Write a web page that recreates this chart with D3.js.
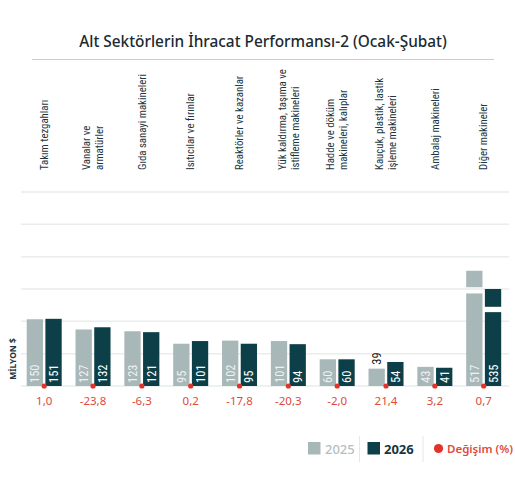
<!DOCTYPE html>
<html><head><meta charset="utf-8">
<script src="https://cdn.jsdelivr.net/npm/d3@7"></script>
<style>
html,body{margin:0;padding:0;background:#fff;}
svg{display:block;}
</style></head>
<body>
<script>
const categories = ["Takım tezgahları", "Vanalar ve\narmatürler", "Gıda sanayi makineleri", "Isıtıcılar ve fırınlar", "Reaktörler ve kazanlar", "Yük kaldırma, taşıma ve\nistifleme makineleri", "Hadde ve döküm\nmakineleri, kalıplar", "Kauçuk, plastik, lastik\nişleme makineleri", "Ambalaj makineleri", "Diğer makineler"];
const values2025 = [150, 127, 123, 95, 102, 101, 60, 39, 43, 517];
const values2026 = [151, 132, 121, 101, 95, 94, 60, 54, 41, 535];
const changePct = [1.0, -23.8, -6.3, 0.2, -17.8, -20.3, -2.0, 21.4, 3.2, 0.7];
const seriesNames = ["2025", "2026"];
// Broken (axis-break) bar drawing for out-of-scale values: lower segment top, upper segment start/end (in data units)
const breaks2025 = {index: 9, lower: 208, upperFrom: 222, upperTo: 259};
const breaks2026 = {index: 9, lower: 166, upperFrom: 178, upperTo: 218};
const yMax = 436;
const gridCount = 6;
const title = "Alt Sektörlerin İhracat Performansı-2 (Ocak-Şubat)";
const yLabel = "MİLYON $";
const legendChange = "Değişim (%)";

const W = 515, H = 477;
const colors = {"2025": "#a8b7b8", "2026": "#0c3f48"};
const red = "#e2332b", redText = "#de4a3c", dark = "#1d3640";
const cond = "'Liberation Sans Narrow', 'Roboto Condensed', 'Noto Sans', sans-serif";
const main = "'Noto Sans', 'Open Sans', sans-serif";

const svg = d3.select("body").append("svg").attr("width", W).attr("height", H);

// Title
const t = svg.append("text").attr("x", 263).attr("y", 47).attr("text-anchor", "middle")
  .attr("font-family", main).attr("font-size", 17).attr("font-weight", 500).attr("fill", "#1b2a30").text(title);
const tl = t.node().getComputedTextLength();
if (tl > 0) t.attr("font-size", 17 * 368 / tl);
svg.append("line").attr("x1", 32).attr("x2", 494).attr("y1", 59.5).attr("y2", 59.5)
  .attr("stroke", "#c5d0d2").attr("stroke-width", 1.2);

const x = d3.scaleBand().domain(categories).range([26.7, 501.2]).paddingInner(0.283).paddingOuter(0);
const bw = 16.3, gap = 2.4;
const y = d3.scaleLinear().domain([0, yMax]).range([386, 192]);

// gridlines
const ticks = d3.range(gridCount + 1).map(i => i * yMax / gridCount);
svg.append("g").selectAll("line").data(ticks).join("line")
  .attr("x1", 21).attr("x2", 509).attr("y1", d => y(d)).attr("y2", d => y(d))
  .attr("stroke", "#e9eded").attr("stroke-width", 1.5);

// category labels
const catG = svg.append("g");
categories.forEach(c => {
  const lines = c.split("\n");
  const cx = x(c) + x.bandwidth() / 2;
  lines.forEach((ln, i) => {
    const off = (i - (lines.length - 1) / 2) * 13;
    catG.append("text").attr("transform", `translate(${cx + off},170) rotate(-90)`)
      .attr("dy", "0.35em").attr("font-family", cond).attr("font-size", 10.8)
      .attr("fill", dark).text(ln);
  });
});

// bars
const barG = svg.append("g");
const series = [
  {name: "2025", vals: values2025, br: breaks2025, dx: 0},
  {name: "2026", vals: values2026, br: breaks2026, dx: bw + gap}
];
series.forEach(s => {
  s.vals.forEach((v, i) => {
    const c = categories[i];
    const bx = x(c) + s.dx;
    if (s.br && s.br.index === i) {
      barG.append("rect").attr("x", bx).attr("width", bw).attr("y", y(s.br.lower)).attr("height", y(0) - y(s.br.lower)).attr("fill", colors[s.name]);
      barG.append("rect").attr("x", bx).attr("width", bw).attr("y", y(s.br.upperTo)).attr("height", y(s.br.upperFrom) - y(s.br.upperTo)).attr("fill", colors[s.name]);
    } else {
      barG.append("rect").attr("x", bx).attr("width", bw).attr("y", y(v)).attr("height", y(0) - y(v)).attr("fill", colors[s.name]);
    }
    const inside = (y(0) - y(v)) >= 18;
    const lx = bx + bw / 2;
    if (inside) {
      barG.append("text").attr("transform", `translate(${lx},${y(0) - 3}) rotate(-90)`)
        .attr("dy", "0.36em").attr("font-family", cond).attr("font-size", 12.5)
        .attr("fill", s.name === "2025" ? "#eef2f2" : "#ffffff").text(v);
    } else {
      barG.append("text").attr("transform", `translate(${lx},${y(v) - 4}) rotate(-90)`)
        .attr("dy", "0.36em").attr("font-family", cond).attr("font-size", 12.5)
        .attr("fill", "#1a1a1a").text(v);
    }
  });
});

// change dots and labels
const fmt = v => d3.format(".1f")(v).replace("−", "-").replace(".", ",");
categories.forEach((c, i) => {
  const cx = x(c) + x.bandwidth() / 2;
  svg.append("circle").attr("cx", cx).attr("cy", y(0)).attr("r", 2.6).attr("fill", red);
  svg.append("text").attr("x", cx).attr("y", 405).attr("text-anchor", "middle")
    .attr("font-family", main).attr("font-size", 11.5).attr("fill", redText).text(fmt(changePct[i]));
});

// y label
svg.append("text").attr("transform", "translate(13,359) rotate(-90)").attr("text-anchor", "middle")
  .attr("dy", "0.35em").attr("font-family", main).attr("font-size", 8.5).attr("font-weight", 700)
  .attr("fill", dark).text(yLabel);

// legend
const lg = svg.append("g");
lg.append("rect").attr("x", 308).attr("y", 442).attr("width", 12.5).attr("height", 12.5).attr("fill", colors["2025"]);
lg.append("text").attr("x", 325).attr("y", 453.5).attr("font-family", main).attr("font-size", 13).attr("font-weight", 500)
  .attr("fill", "#b3bfc1").text(seriesNames[0]);
lg.append("line").attr("x1", 359.5).attr("x2", 359.5).attr("y1", 436).attr("y2", 462).attr("stroke", "#e3e7e8");
lg.append("rect").attr("x", 367.5).attr("y", 442).attr("width", 12.5).attr("height", 12.5).attr("fill", colors["2026"]);
lg.append("text").attr("x", 384).attr("y", 453.5).attr("font-family", main).attr("font-size", 13).attr("font-weight", 700)
  .attr("fill", "#173640").text(seriesNames[1]);
lg.append("line").attr("x1", 423).attr("x2", 423).attr("y1", 436).attr("y2", 462).attr("stroke", "#e3e7e8");
lg.append("circle").attr("cx", 438.5).attr("cy", 448.5).attr("r", 4.6).attr("fill", red);
lg.append("text").attr("x", 447).attr("y", 453).attr("font-family", main).attr("font-size", 11.5).attr("font-weight", 600)
  .attr("fill", redText).text(legendChange);
</script>
</body></html>
